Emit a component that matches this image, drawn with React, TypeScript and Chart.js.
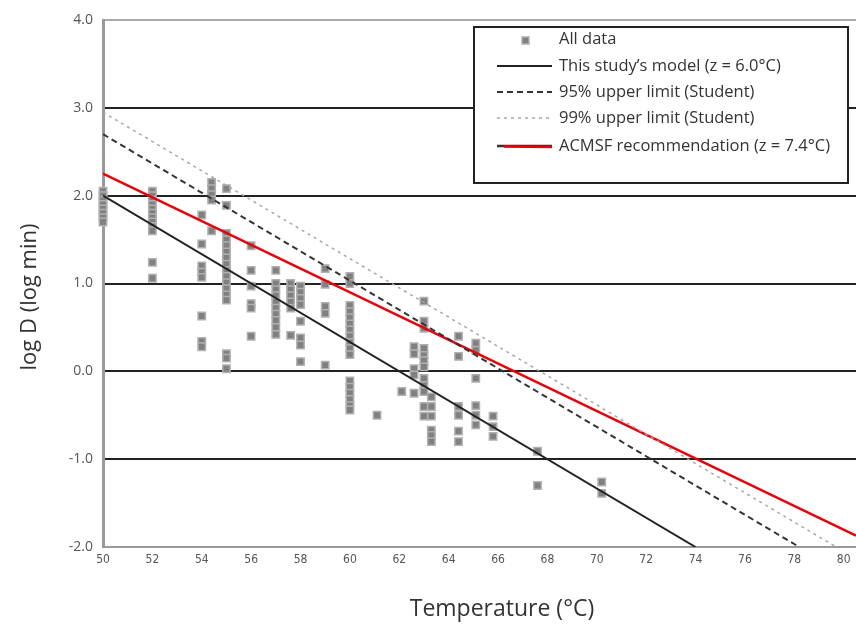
import React, { useEffect, useRef } from 'react';
import { Chart, registerables } from 'chart.js';

Chart.register(...registerables);

// ---- Axis tick labels ----
const xTickValues = [50, 52, 54, 56, 58, 60, 62, 64, 66, 68, 70, 72, 74, 76, 78, 80];
const yTickValues = [-2, -1, 0, 1, 2, 3, 4];

// ---- Titles / legend labels ----
const xTitle = 'Temperature (°C)';
const yTitle = 'log D (log min)';
const legendLabels = [
  'All data',
  'This study’s model (z = 6.0°C)',
  '95% upper limit (Student)',
  '99% upper limit (Student)',
  'ACMSF recommendation (z = 7.4°C)',
];

// ---- Observed data (temperature °C, log D) ----
const tempC = [
  50, 50, 50, 50, 50, 50, 50, 50,
  52, 52, 52, 52, 52, 52, 52, 52, 52, 52, 52, 52,
  54, 54, 54, 54, 54, 54, 54, 54,
  54.4, 54.4, 54.4, 54.4, 54.4,
  55, 55, 55, 55, 55, 55, 55, 55, 55, 55, 55, 55, 55, 55, 55, 55, 55,
  56, 56, 56, 56, 56, 56,
  57, 57, 57, 57, 57, 57, 57, 57, 57, 57,
  57.6, 57.6, 57.6, 57.6, 57.6, 57.6,
  58, 58, 58, 58, 58, 58, 58, 58,
  59, 59, 59, 59, 59,
  60, 60, 60, 60, 60, 60, 60, 60, 60, 60, 60, 60, 60, 60, 60, 60, 60,
  61.1,
  62.1,
  62.6, 62.6, 62.6, 62.6, 62.6,
  63, 63, 63, 63, 63, 63, 63, 63, 63, 63, 63, 63,
  63.3, 63.3, 63.3, 63.3, 63.3, 63.3,
  64.4, 64.4, 64.4, 64.4, 64.4, 64.4,
  65.1, 65.1, 65.1, 65.1, 65.1, 65.1,
  65.8, 65.8, 65.8,
  67.6, 67.6,
  70.2, 70.2,
];
const logD = [
  2.05, 2.0, 1.95, 1.9, 1.85, 1.8, 1.75, 1.7,
  2.05, 2.0, 1.95, 1.9, 1.85, 1.8, 1.75, 1.7, 1.65, 1.6, 1.24, 1.06,
  1.78, 1.45, 1.2, 1.13, 1.07, 0.63, 0.34, 0.28,
  2.15, 2.08, 2.01, 1.95, 1.6,
  2.08, 1.89, 1.57, 1.5, 1.43, 1.36, 1.29, 1.22, 1.15, 1.08, 1.01, 0.94, 0.87, 0.81, 0.2, 0.15, 0.03,
  1.43, 1.15, 0.97, 0.77, 0.72, 0.4,
  1.15, 1.0, 0.93, 0.86, 0.79, 0.72, 0.65, 0.58, 0.5, 0.42,
  1.0, 0.93, 0.86, 0.79, 0.72, 0.41,
  0.97, 0.9, 0.83, 0.76, 0.57, 0.38, 0.3, 0.11,
  1.17, 0.99, 0.74, 0.66, 0.07,
  1.08, 1.0, 0.75, 0.68, 0.61, 0.54, 0.47, 0.4, 0.33, 0.26, 0.19, -0.11, -0.18, -0.25, -0.32, -0.39, -0.44,
  -0.5,
  -0.23,
  0.28, 0.2, 0.03, -0.04, -0.25,
  0.8, 0.57, 0.49, 0.26, 0.18, 0.12, 0.05, -0.08, -0.16, -0.23, -0.4, -0.51,
  -0.29, -0.4, -0.51, -0.67, -0.73, -0.8,
  0.4, 0.17, -0.4, -0.5, -0.68, -0.8,
  0.32, 0.24, -0.08, -0.39, -0.5, -0.61,
  -0.51, -0.63, -0.74,
  -0.91, -1.3,
  -1.26, -1.39,
];

// ---- Model lines (end points) ----
const modelTemp = [50, 74];
const modelLogD = [2.0, -2.0];
const upper95Temp = [50, 78.2];
const upper95LogD = [2.7, -2.0];
const upper99Temp = [50, 79.7];
const upper99LogD = [2.95, -2.0];
const acmsfTemp = [50, 80.5];
const acmsfLogD = [2.25, -1.87];

const X_MIN = 50;
const X_MAX = 80.5;
const Y_MIN = -2;
const Y_MAX = 4;

const FONT = '"Open Sans", "Noto Sans", sans-serif';

const pairs = (xs: number[], ys: number[]) => xs.map((x, i) => ({ x, y: ys[i] }));

const overlayPlugin = {
  id: 'overlay',
  afterDraw(chart: any) {
    const ctx = chart.ctx as CanvasRenderingContext2D;
    ctx.save();
    // axis titles
    ctx.fillStyle = '#333';
    ctx.font = `23px ${FONT}`;
    ctx.textAlign = 'center';
    ctx.textBaseline = 'middle';
    ctx.fillText(xTitle, 502, 609);
    ctx.save();
    ctx.font = `22px ${FONT}`;
    ctx.translate(30, 297);
    ctx.rotate(-Math.PI / 2);
    ctx.fillText(yTitle, 0, 0);
    ctx.restore();

    // legend box
    const bx = 474, by = 27, bw = 374, bh = 156;
    ctx.fillStyle = '#fff';
    ctx.fillRect(bx, by, bw, bh);
    ctx.strokeStyle = '#222';
    ctx.lineWidth = 2;
    ctx.strokeRect(bx, by, bw, bh);

    const rows = [39, 66, 92, 118, 146];
    const lx0 = 497, lx1 = 552, tx = 559;
    const ds = chart.data.datasets;
    rows.forEach((ry, i) => {
      if (i === 0) {
        ctx.fillStyle = ds[4].backgroundColor;
        ctx.strokeStyle = ds[4].borderColor;
        ctx.lineWidth = 1.5;
        ctx.fillRect(522, ry - 2, 7, 7);
        ctx.strokeRect(522, ry - 2, 7, 7);
      } else {
        const d = ds[i - 1];
        ctx.beginPath();
        ctx.setLineDash(d.borderDash || []);
        ctx.strokeStyle = i === 4 ? '#333' : d.borderColor;
        ctx.lineWidth = d.borderWidth;
        ctx.moveTo(lx0, ry);
        ctx.lineTo(lx1, ry);
        ctx.stroke();
        if (i === 4) {
          ctx.beginPath();
          ctx.strokeStyle = d.borderColor;
          ctx.moveTo(lx0 + 7, ry + 0.5);
          ctx.lineTo(lx1, ry + 1);
          ctx.stroke();
        }
        ctx.setLineDash([]);
      }
      ctx.fillStyle = '#333';
      ctx.font = `16.5px ${FONT}`;
      ctx.textAlign = 'left';
      ctx.textBaseline = 'middle';
      ctx.fillText(legendLabels[i], tx, ry);
    });
    ctx.restore();
  },
};

export default function App() {
  const ref = useRef<HTMLCanvasElement | null>(null);

  useEffect(() => {
    if (!ref.current) return;
    const lineCommon = {
      type: 'scatter' as const,
      showLine: true,
      pointRadius: 0,
      pointHoverRadius: 0,
      fill: false,
      tension: 0,
      order: 0,
    };
    const chart = new Chart(ref.current, {
      type: 'scatter',
      data: {
        datasets: [
          { ...lineCommon, label: legendLabels[1], data: pairs(modelTemp, modelLogD), borderColor: '#222', borderWidth: 2 },
          { ...lineCommon, label: legendLabels[2], data: pairs(upper95Temp, upper95LogD), borderColor: '#333', borderWidth: 2, borderDash: [6, 4] },
          { ...lineCommon, label: legendLabels[3], data: pairs(upper99Temp, upper99LogD), borderColor: '#a8a8a8', borderWidth: 1.5, borderDash: [3, 4] },
          { ...lineCommon, label: legendLabels[4], data: pairs(acmsfTemp, acmsfLogD), borderColor: '#e8000c', borderWidth: 2.5 },
          {
            type: 'scatter',
            label: legendLabels[0],
            data: pairs(tempC, logD),
            pointStyle: 'rect',
            pointRadius: 5.2,
            backgroundColor: '#808080',
            borderColor: '#b0b0b0',
            borderWidth: 1.5,
            clip: false as any,
            order: 1,
          } as any,
        ],
      },
      options: {
        responsive: false,
        animation: false,
        events: [],
        layout: { autoPadding: false, padding: { top: 20, left: 0, right: 0, bottom: 0 } },
        plugins: { legend: { display: false }, tooltip: { enabled: false } },
        scales: {
          x: {
            type: 'linear',
            min: X_MIN,
            max: X_MAX,
            afterFit: (s: any) => { s.height = 628 - 547; s.paddingRight = 0; s.paddingLeft = 0; },
            afterBuildTicks: (s: any) => { s.ticks = xTickValues.map((v) => ({ value: v })); },
            grid: { display: false, drawTicks: false },
            border: { display: true, color: '#999', width: 2 },
            ticks: {
              padding: 6,
              color: '#555',
              font: { family: '"Liberation Sans Narrow", "DejaVu Sans Condensed", sans-serif', size: 12 },
              maxRotation: 0,
              autoSkip: false,
              callback: (v: any) => String(v),
            },
          },
          y: {
            type: 'linear',
            min: Y_MIN,
            max: Y_MAX,
            afterFit: (s: any) => { s.width = 103; s.paddingTop = 0; s.paddingBottom = 0; },
            afterBuildTicks: (s: any) => { s.ticks = yTickValues.map((v) => ({ value: v })); },
            grid: {
              drawTicks: false,
              lineWidth: 2,
              color: (c: any) => {
                const v = c.tick && c.tick.value;
                if (v === Y_MAX) return '#aaa';
                if (v === Y_MIN) return 'rgba(0,0,0,0)';
                return '#222';
              },
            },
            border: { display: true, color: '#999', width: 3 },
            ticks: {
              padding: 10,
              color: '#555',
              font: { family: FONT, size: 14 },
              callback: (v: any) => Number(v).toFixed(1),
            },
          },
        },
      },
      plugins: [overlayPlugin],
    } as any);
    return () => chart.destroy();
  }, []);

  return (
    <div style={{ position: 'absolute', left: 0, top: 0, width: 856, height: 628, background: '#fff' }}>
      <canvas ref={ref} width={856} height={628} style={{ width: 856, height: 628, display: 'block' }} />
    </div>
  );
}
